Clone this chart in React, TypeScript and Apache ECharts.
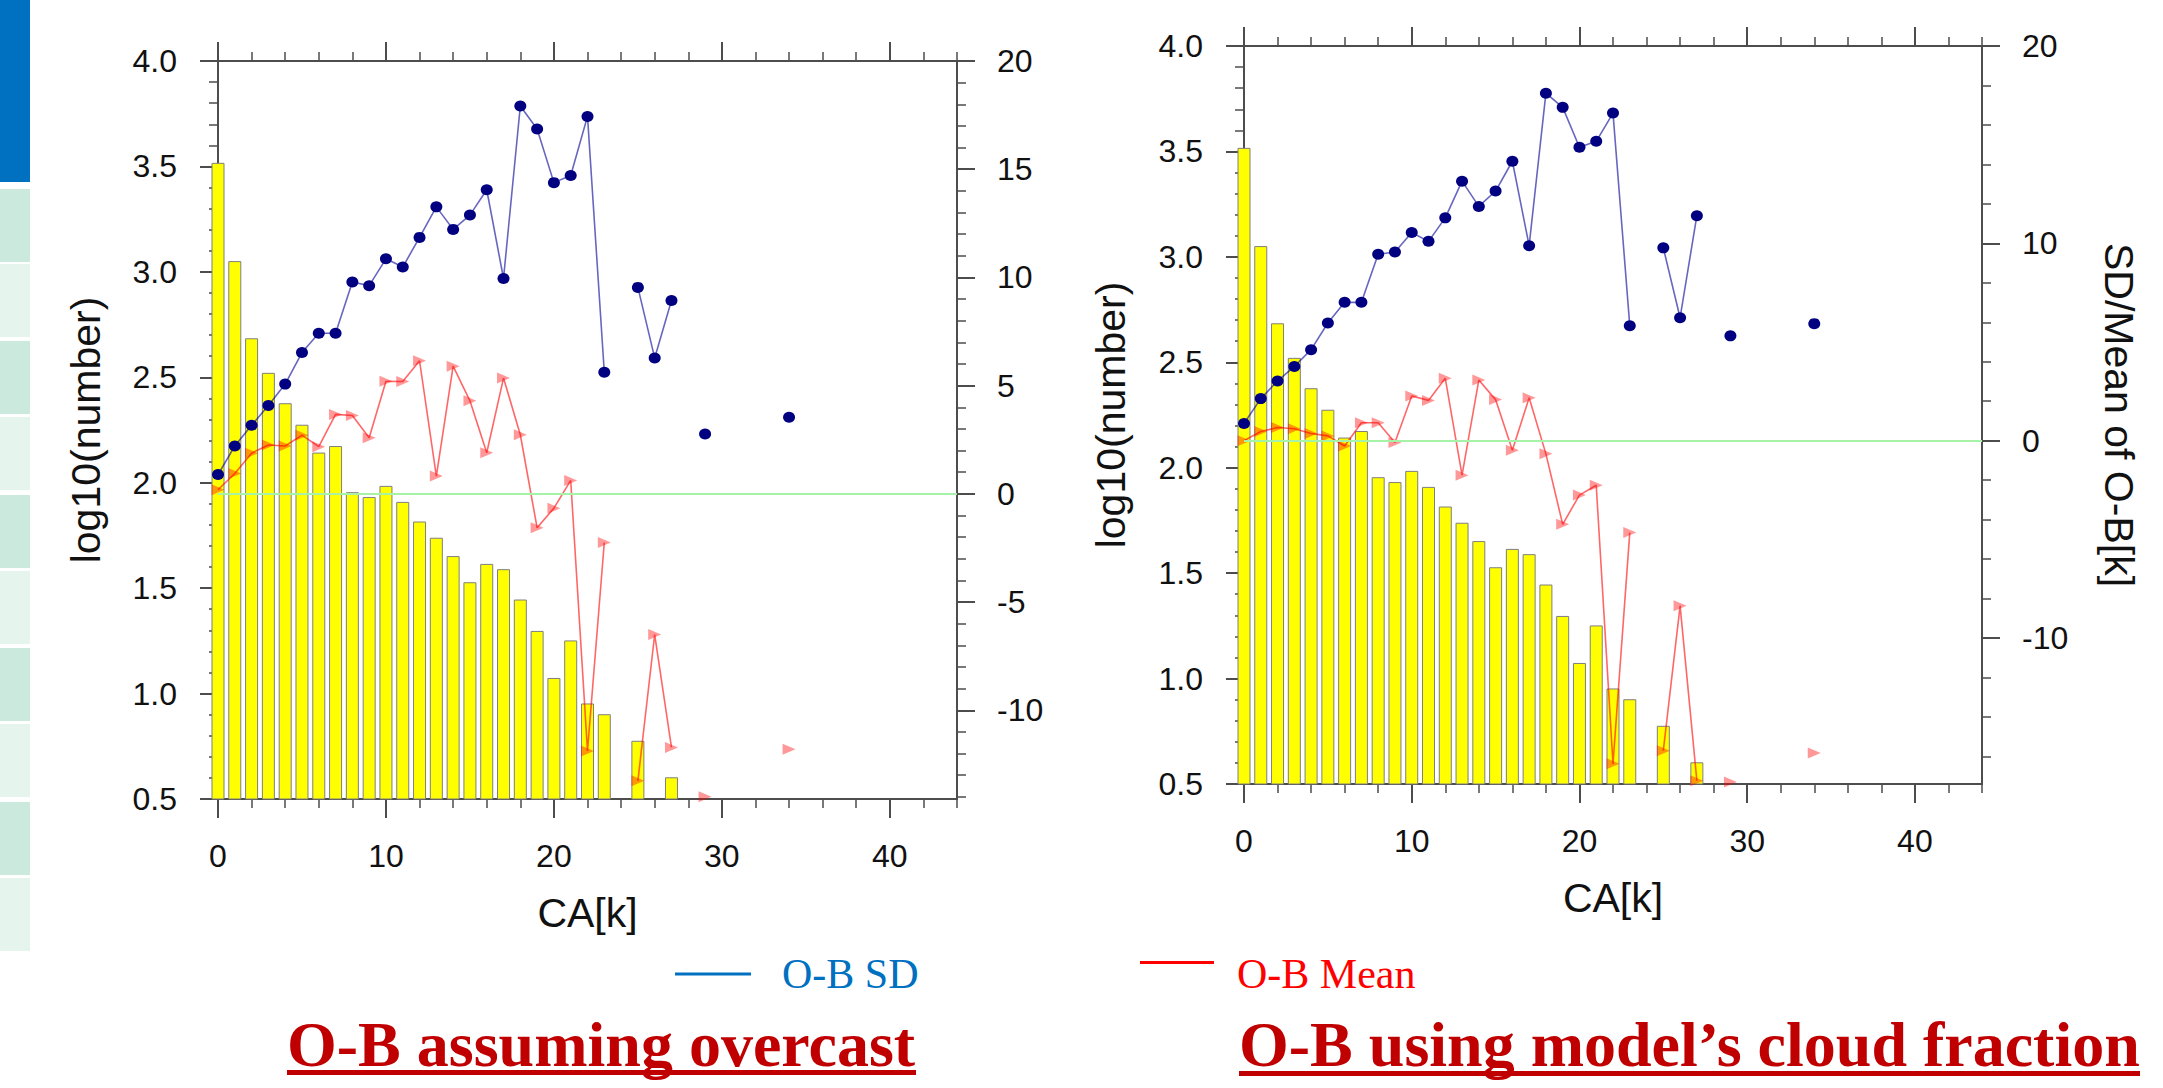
import React, { useEffect, useRef } from 'react';
import * as echarts from 'echarts';

// CA[k] bins
const caBins = [0, 1, 2, 3, 4, 5, 6, 7, 8, 9, 10, 11, 12, 13, 14, 15, 16, 17, 18, 19, 20, 21, 22, 23, 24, 25, 26, 27, 28, 29, 30, 31, 32, 33, 34];

// log10(number) per bin (same sample in both panels)
const logCount = [3.517, 3.051, 2.685, 2.521, 2.377, 2.275, 2.143, 2.174, 1.955, 1.932, 1.985, 1.909, 1.816, 1.739, 1.652, 1.528, 1.615, 1.590, 1.446, 1.297, 1.074, 1.252, 0.953, 0.902, null, 0.776, null, 0.603];

// O-B assuming overcast
const sdOvercast = [0.89, 2.21, 3.17, 4.08, 5.07, 6.53, 7.42, 7.42, 9.79, 9.62, 10.86, 10.48, 11.85, 13.26, 12.22, 12.88, 14.05, 9.95, 17.92, 16.86, 14.38, 14.71, 17.44, 5.62, null, 9.54, 6.28, 8.93, null, 2.76, null, null, null, null, 3.54];
const meanOvercast = [0.19, 0.94, 1.88, 2.26, 2.21, 2.71, 2.18, 3.67, 3.62, 2.59, 5.20, 5.19, 6.15, 0.82, 5.90, 4.30, 1.90, 5.35, 2.73, -1.57, -0.66, 0.62, -11.88, -2.25, null, -13.26, -6.5, -11.72, null, -14.0, null, null, null, null, -11.8];

// O-B using model's cloud fraction
const sdCloudFrac = [0.87, 2.13, 3.02, 3.76, 4.61, 5.96, 7.01, 7.01, 9.45, 9.56, 10.55, 10.10, 11.29, 13.15, 11.87, 12.65, 14.16, 9.88, 17.61, 16.89, 14.87, 15.17, 16.60, 5.82, null, 9.77, 6.23, 11.40, null, 5.31, null, null, null, null, 5.93];
const meanCloudFrac = [0.0, 0.46, 0.67, 0.60, 0.36, 0.24, -0.27, 0.91, 0.91, -0.09, 2.26, 2.04, 3.16, -1.75, 3.07, 2.08, -0.49, 2.17, -0.67, -4.24, -2.76, -2.26, -16.38, -4.66, null, -15.71, -8.37, -17.23, null, -17.3, null, null, null, null, -15.83];

// tick values
const xMajorTicks = [0, 10, 20, 30, 40];
const xMinorTicks = [0, 2, 4, 6, 8, 10, 12, 14, 16, 18, 20, 22, 24, 26, 28, 30, 32, 34, 36, 38, 40, 42, 44];
const yLeftMajorTicks = [0.5, 1.0, 1.5, 2.0, 2.5, 3.0, 3.5, 4.0];
const yLeftMinorTicks = [0.5, 0.6, 0.7, 0.8, 0.9, 1.0, 1.1, 1.2, 1.3, 1.4, 1.5, 1.6, 1.7, 1.8, 1.9, 2.0, 2.1, 2.2, 2.3, 2.4, 2.5, 2.6, 2.7, 2.8, 2.9, 3.0, 3.1, 3.2, 3.3, 3.4, 3.5, 3.6, 3.7, 3.8, 3.9, 4.0];
const yRightMajorTicksA = [-10, -5, 0, 5, 10, 15, 20];
const yRightMinorTicksA = [-14, -13, -12, -11, -10, -9, -8, -7, -6, -5, -4, -3, -2, -1, 0, 1, 2, 3, 4, 5, 6, 7, 8, 9, 10, 11, 12, 13, 14, 15, 16, 17, 18, 19, 20];
const yRightMajorTicksB = [-10, 0, 10, 20];
const yRightMinorTicksB = [-16, -14, -12, -10, -8, -6, -4, -2, 0, 2, 4, 6, 8, 10, 12, 14, 16, 18, 20];

const titleA = 'O-B assuming overcast';
const titleB = 'O-B using model\u2019s cloud fraction';

const AXIS_COLOR = '#4d4d4d';
const SANS = 'Liberation Sans';
const SERIF = 'Liberation Serif';
const TICK_FONT = 32;

const pairs = (vals: (number | null)[]) =>
  caBins.slice(0, vals.length).map((k, i) => [k, vals[i] == null ? '-' : vals[i]]);

function xAxesFor(gridIndex: number) {
  const base = { type: 'value', gridIndex, min: 0, max: 44, splitLine: { show: false } };
  const major = { show: true, inside: false, length: 19, customValues: xMajorTicks, lineStyle: { color: AXIS_COLOR, width: 2 } };
  const minor = { show: true, inside: false, length: 9, customValues: xMinorTicks, lineStyle: { color: AXIS_COLOR, width: 1.5 } };
  return [
    {
      ...base, position: 'bottom',
      axisLine: { show: true, onZero: false, lineStyle: { color: AXIS_COLOR, width: 2 } },
      axisTick: major,
      axisLabel: { show: true, customValues: xMajorTicks, margin: 41, fontSize: TICK_FONT, color: '#111', fontFamily: SANS },
      name: 'CA[k]', nameLocation: 'middle', nameGap: 93,
      nameTextStyle: { fontSize: 41, color: '#111', fontFamily: SANS },
    },
    { ...base, position: 'bottom', axisLine: { show: false, onZero: false }, axisTick: minor, axisLabel: { show: false } },
    {
      ...base, position: 'top',
      axisLine: { show: true, onZero: false, lineStyle: { color: AXIS_COLOR, width: 2 } },
      axisTick: major, axisLabel: { show: false },
    },
    { ...base, position: 'top', axisLine: { show: false, onZero: false }, axisTick: minor, axisLabel: { show: false } },
  ];
}

function yAxesFor(gridIndex: number, rightMin: number, rMajor: number[], rMinor: number[], rightName: string, leftGap: number) {
  const left = { type: 'value', gridIndex, min: 0.5, max: 4.0, position: 'left', splitLine: { show: false } };
  const right = { type: 'value', gridIndex, min: rightMin, max: 20, position: 'right', splitLine: { show: false } };
  return [
    {
      ...left,
      axisLine: { show: true, onZero: false, lineStyle: { color: AXIS_COLOR, width: 2 } },
      axisTick: { show: true, inside: false, length: 18, customValues: yLeftMajorTicks, lineStyle: { color: AXIS_COLOR, width: 2 } },
      axisLabel: { show: true, customValues: yLeftMajorTicks, margin: 41, fontSize: TICK_FONT, color: '#111', fontFamily: SANS, formatter: (v: number) => v.toFixed(1) },
      name: 'log10(number)', nameLocation: 'middle', nameGap: leftGap, nameRotate: 90,
      nameTextStyle: { fontSize: 41, color: '#111', fontFamily: SANS },
    },
    {
      ...left,
      axisLine: { show: false, onZero: false },
      axisTick: { show: true, inside: false, length: 9, customValues: yLeftMinorTicks, lineStyle: { color: AXIS_COLOR, width: 1.5 } },
      axisLabel: { show: false },
    },
    {
      ...right,
      axisLine: { show: true, onZero: false, lineStyle: { color: AXIS_COLOR, width: 2 } },
      axisTick: { show: true, inside: false, length: 18, customValues: rMajor, lineStyle: { color: AXIS_COLOR, width: 2 } },
      axisLabel: { show: true, customValues: rMajor, margin: 40, fontSize: TICK_FONT, color: '#111', fontFamily: SANS },
      name: rightName, nameLocation: 'middle', nameGap: 116, nameRotate: -90,
      nameTextStyle: { fontSize: 41, color: '#111', fontFamily: SANS },
    },
    {
      ...right,
      axisLine: { show: false, onZero: false },
      axisTick: { show: true, inside: false, length: 9, customValues: rMinor, lineStyle: { color: AXIS_COLOR, width: 1.5 } },
      axisLabel: { show: false },
    },
  ];
}

const TRI = 'path://M0,0 L10,5 L0,10 Z';

function seriesFor(g: number, sd: (number | null)[], mean: (number | null)[]) {
  const xi = g * 4;
  const yi = g * 4;
  return [
    {
      type: 'bar', name: 'log10(number)', xAxisIndex: xi, yAxisIndex: yi,
      data: pairs(logCount), barWidth: 13, clip: true, z: 2,
      itemStyle: { color: '#ffff00', borderColor: '#7f7f7f', borderWidth: 1 },
    },
    {
      type: 'line', name: 'O-B Mean', xAxisIndex: xi, yAxisIndex: yi + 2,
      data: pairs(mean), connectNulls: false, clip: false, z: 3,
      symbol: TRI, symbolSize: [13, 11], showSymbol: true,
      itemStyle: { color: 'rgba(255,0,0,0.4)' },
      lineStyle: { color: 'rgba(255,0,0,0.6)', width: 1.6 },
      markLine: {
        silent: true, symbol: 'none', label: { show: false },
        lineStyle: { color: '#a6f2a6', width: 2, type: 'solid' },
        data: [{ yAxis: 0 }],
      },
    },
    {
      type: 'line', name: 'O-B SD', xAxisIndex: xi, yAxisIndex: yi + 2,
      data: pairs(sd), connectNulls: false, clip: false, z: 4,
      symbol: 'circle', symbolSize: [12, 11], showSymbol: true,
      itemStyle: { color: '#000080' },
      lineStyle: { color: 'rgba(0,0,150,0.6)', width: 1.6 },
    },
  ];
}

function sidebar() {
  const tops = [189, 264, 341, 417, 495, 571, 648, 724, 802, 878];
  const els: any[] = [
    { type: 'rect', shape: { x: 0, y: 0, width: 30, height: 182 }, style: { fill: '#0070C0' } },
  ];
  tops.forEach((t, i) => {
    els.push({ type: 'rect', shape: { x: 0, y: t, width: 30, height: 73 }, style: { fill: i % 2 === 0 ? '#cbe9dc' : '#e5f4ed' } });
  });
  return els;
}

export default function App() {
  const ref = useRef<HTMLDivElement>(null);
  useEffect(() => {
    if (!ref.current) return;
    const chart = echarts.init(ref.current, undefined, { renderer: 'svg' });
    const option: any = {
      animation: false,
      backgroundColor: '#ffffff',
      textStyle: { fontFamily: SANS },
      grid: [
        { left: 218, top: 61, width: 739, height: 738 },
        { left: 1244, top: 46, width: 738, height: 738 },
      ],
      xAxis: [...xAxesFor(0), ...xAxesFor(1)],
      yAxis: [
        ...yAxesFor(0, -14.1, yRightMajorTicksA, yRightMinorTicksA, '', 112),
        ...yAxesFor(1, -17.4, yRightMajorTicksB, yRightMinorTicksB, 'SD/Mean of O-B[k]', 113),
      ],
      legend: [
        {
          left: 675, top: 953, padding: 0, selectedMode: false, icon: 'rect', itemWidth: 76, itemHeight: 3,
          data: [{ name: 'O-B SD', itemStyle: { color: '#0070C0', opacity: 1 }, textStyle: { color: '#0070C0' } }],
          textStyle: { fontFamily: SERIF, fontSize: 42, padding: [0, 0, 0, 26] },
        },
        {
          left: 1140, top: 953, padding: 0, selectedMode: false,
          icon: 'path://M0,0 L74,0 L74,3 L0,3 Z M0,26 L74,26', itemWidth: 74, itemHeight: 26,
          data: [{ name: 'O-B Mean', itemStyle: { color: '#FF0000', opacity: 1 }, textStyle: { color: '#FF0000' } }],
          textStyle: { fontFamily: SERIF, fontSize: 42, padding: [0, 0, 0, 18] },
        },
      ],
      series: [...seriesFor(0, sdOvercast, meanOvercast), ...seriesFor(1, sdCloudFrac, meanCloudFrac)],
      graphic: [
        ...sidebar(),
        {
          type: 'text', x: 287, y: 1044,
          style: { text: titleA, fill: '#C00000', fontFamily: SERIF, fontWeight: 'bold', fontSize: 64, align: 'left', verticalAlign: 'middle' },
        },
        { type: 'rect', shape: { x: 287, y: 1070, width: 629, height: 5 }, style: { fill: '#C00000' } },
        {
          type: 'text', x: 1239, y: 1044,
          style: { text: titleB, fill: '#C00000', fontFamily: SERIF, fontWeight: 'bold', fontSize: 64, align: 'left', verticalAlign: 'middle' },
        },
        { type: 'rect', shape: { x: 1239, y: 1071, width: 901, height: 5 }, style: { fill: '#C00000' } },
      ],
    };
    chart.setOption(option);
    return () => chart.dispose();
  }, []);
  return <div ref={ref} style={{ position: 'fixed', left: 0, top: 0, width: 2163, height: 1088, background: '#fff' }} />;
}
